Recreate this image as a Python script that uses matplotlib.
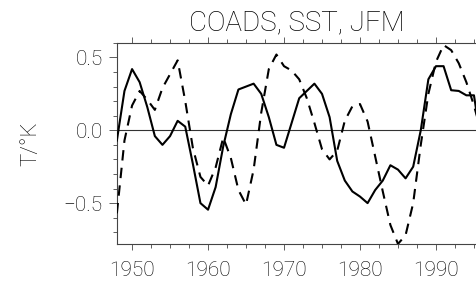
import matplotlib
matplotlib.use("Agg")
import matplotlib.pyplot as plt
from matplotlib.ticker import MultipleLocator

years = list(range(1948, 1997))

# solid line (annual values)
solid = [-0.07, 0.27, 0.42, 0.33, 0.16, -0.04, -0.10, -0.04, 0.065, 0.025,
         -0.23, -0.50, -0.545, -0.39, -0.11, 0.11, 0.28, 0.30, 0.32, 0.25,
         0.09, -0.10, -0.12, 0.05, 0.22, 0.27, 0.32, 0.25, 0.09, -0.21,
         -0.345, -0.42, -0.455, -0.50, -0.41, -0.345, -0.24, -0.27, -0.33, -0.25,
         0.00, 0.35, 0.44, 0.44, 0.275, 0.27, 0.24, 0.24, -0.10]

# dashed line (annual values)
dashed = [-0.57, -0.07, 0.17, 0.27, 0.21, 0.14, 0.29, 0.385, 0.48, 0.20,
          -0.12, -0.32, -0.38, -0.255, -0.05, -0.19, -0.41, -0.51, -0.27, 0.12,
          0.42, 0.52, 0.44, 0.41, 0.35, 0.22, 0.05, -0.13, -0.20, -0.14,
          0.065, 0.165, 0.18, 0.06, -0.18, -0.42, -0.65, -0.78, -0.72, -0.50,
          -0.10, 0.25, 0.47, 0.585, 0.55, 0.46, 0.33, 0.17, -0.02]

plt.rcParams['font.family'] = ['Roboto', 'DejaVu Sans']
plt.rcParams['font.weight'] = 'light'

fig = plt.figure(figsize=(4.77, 2.82), dpi=100)
ax = fig.add_axes([0.245, 0.135, 0.755, 0.713])

ax.axhline(0, color='#333333', linewidth=0.8, zorder=1)
ax.plot(years, solid, color='black', linewidth=1.5, zorder=3)
ax.plot(years, dashed, color='black', linewidth=1.5, dashes=(5, 3.5), zorder=3)

ax.set_xlim(1948, 1995.4)
ax.set_ylim(-0.78, 0.6)

ax.xaxis.set_major_locator(MultipleLocator(10))
ax.xaxis.set_minor_locator(MultipleLocator(2.5))
ax.yaxis.set_minor_locator(MultipleLocator(0.1))
ax.set_yticks([-0.5, 0.0, 0.5])
ax.set_yticklabels(['\u22120.5', '0.0', '0.5'])

ax.tick_params(which='both', direction='out', top=True, right=False,
               labelsize=15, labelcolor='black', color='#444444', width=0.6)
ax.tick_params(which='major', length=6, pad=4)
ax.tick_params(which='minor', length=3)
ax.tick_params(axis='x', which='major', length=4, pad=8)

for s in ['left', 'bottom', 'top']:
    ax.spines[s].set_color('#444444')
    ax.spines[s].set_linewidth(0.8)
ax.spines['right'].set_visible(False)

ax.set_title('COADS, SST, JFM', fontsize=20, fontweight='light', pad=9)
ax.set_ylabel('T/°K', fontsize=16, fontweight='light', labelpad=16)

fig.savefig('out.png', dpi=100)
